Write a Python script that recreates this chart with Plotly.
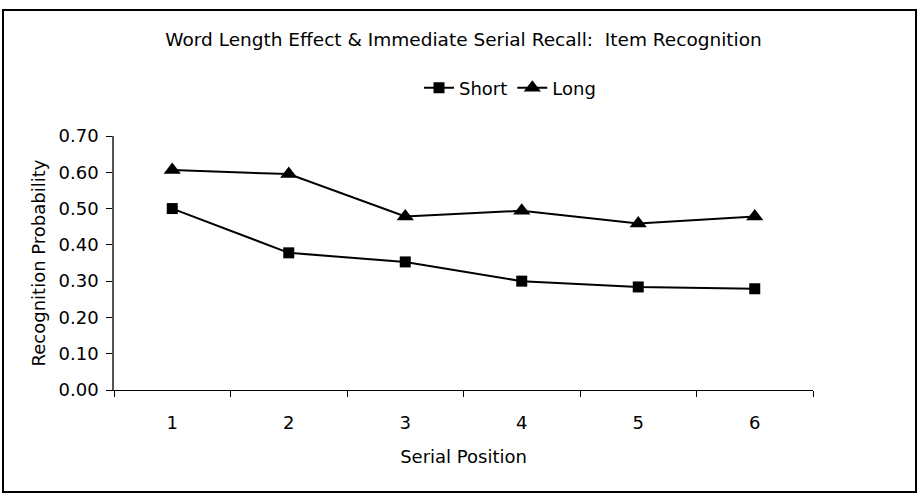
import plotly.graph_objects as go

positions = [1, 2, 3, 4, 5, 6]
short_vals = [0.50, 0.378, 0.353, 0.300, 0.284, 0.279]
long_vals = [0.606, 0.595, 0.478, 0.494, 0.459, 0.478]

FONT = "DejaVu Sans"

fig = go.Figure()
fig.add_trace(go.Scatter(x=positions, y=short_vals, name="Short", mode="lines+markers",
                         line=dict(color="black", width=2),
                         marker=dict(symbol="square", size=11, color="black")))
fig.add_trace(go.Scatter(x=positions, y=long_vals, name="Long", mode="lines+markers",
                         line=dict(color="black", width=2),
                         marker=dict(symbol="triangle-up", size=15, color="black")))

L, R, T, B = 114, 813, 136, 390
W, H = 920, 496
pw, ph = R - L, B - T

def px(x):
    return (x - L) / pw

def py(y):
    return (B - y) / ph

fig.update_layout(
    width=W, height=H,
    margin=dict(l=L, r=W - R, t=T, b=H - B),
    paper_bgcolor="white", plot_bgcolor="white",
    font=dict(family=FONT, size=18, color="black"),
    title=dict(text="Word Length Effect & Immediate Serial Recall:  Item Recognition",
               x=0.5, xanchor="center", xref="paper", y=1 - 40 / H, yanchor="middle",
               font=dict(size=18.5)),
    showlegend=True,
    legend=dict(orientation="h", x=px(510), xanchor="center", y=py(88), yanchor="middle",
                font=dict(size=18), bgcolor="rgba(0,0,0,0)", itemwidth=30),
    xaxis=dict(range=[0.5, 6.5], tickmode="array", tickvals=positions,
               ticktext=[str(p) for p in positions], ticks="", showgrid=False,
               zeroline=False, showline=True, linecolor="black", linewidth=1,
               ticklabelstandoff=16,
               minor=dict(tickmode="linear", tick0=0.5, dtick=1, ticks="outside",
                          ticklen=6, tickcolor="black", showgrid=False),
               title=dict(text="Serial Position", standoff=18, font=dict(size=18))),
    yaxis=dict(range=[0, 0.7], dtick=0.1, tickformat=".2f", ticks="outside", ticklen=6,
               tickcolor="black", showgrid=False, zeroline=False, showline=True,
               linecolor="#555555", linewidth=1.5, ticklabelstandoff=4,
               title=dict(text="Recognition Probability", standoff=8, font=dict(size=18))),
    shapes=[dict(type="rect", xref="paper", yref="paper",
                 x0=px(3), x1=px(916), y0=py(492), y1=py(10),
                 line=dict(color="black", width=2), fillcolor="rgba(0,0,0,0)")],
)

fig.write_html("out.html")
